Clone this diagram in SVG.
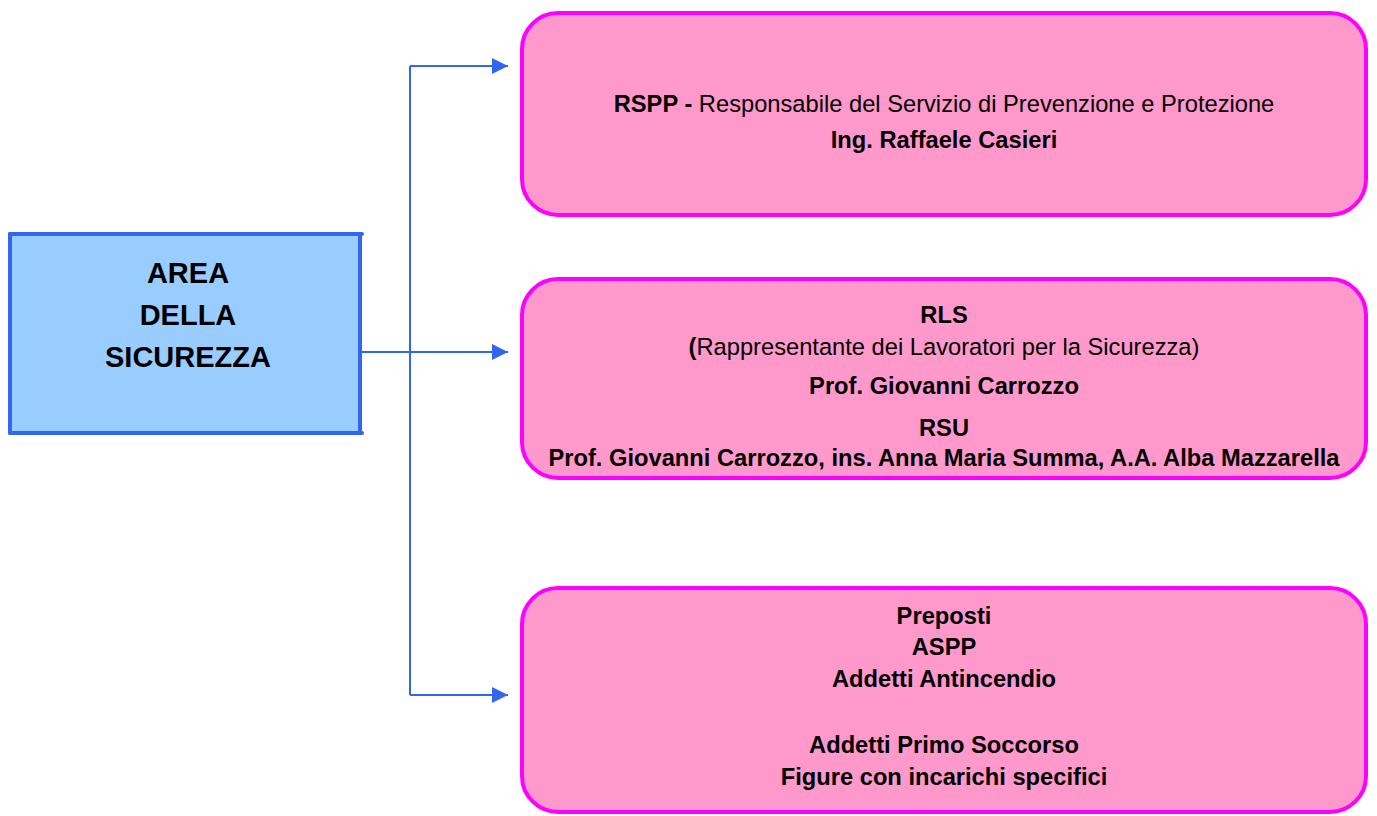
<svg xmlns="http://www.w3.org/2000/svg" width="1377" height="816" viewBox="0 0 1377 816">
<defs>
<style>
.t{font-family:"Liberation Sans",Arial,sans-serif;font-size:23.7px;fill:#000;text-anchor:middle}
.b{font-weight:bold}
.box{fill:#FF99CC;stroke:#FF00FF;stroke-width:4}
.con{fill:none;stroke:#3366EE;stroke-width:2}
</style>
<marker id="ah" viewBox="0 0 10 10" refX="10" refY="5" markerWidth="16" markerHeight="16" markerUnits="userSpaceOnUse" orient="auto">
<path d="M0,0 L10,5 L0,10 Z" fill="#3366EE"/>
</marker>
</defs>
<rect width="1377" height="816" fill="#fff"/>
<g id="connectors">
<path class="con" d="M360,352 H508" marker-end="url(#ah)"/>
<path class="con" d="M410,66 V695"/>
<path class="con" d="M410,66 H508" marker-end="url(#ah)"/>
<path class="con" d="M410,695 H508" marker-end="url(#ah)"/>
</g>
<g id="area">
<rect x="10" y="234" width="350" height="199" fill="#99CCFF"/>
<g stroke="#3366EE" stroke-width="4" stroke-linecap="round">
<line x1="10" y1="234" x2="362" y2="234"/>
<line x1="10" y1="433" x2="362" y2="433"/>
<line x1="10" y1="234" x2="10" y2="433"/>
<line x1="360" y1="234" x2="360" y2="433"/>
</g>
<text class="t b" x="188" y="283" style="font-size:29px">AREA</text>
<text class="t b" x="188" y="325" style="font-size:29px">DELLA</text>
<text class="t b" x="188" y="367" style="font-size:29px">SICUREZZA</text>
</g>
<g id="rspp">
<rect class="box" x="522" y="13" width="844" height="202" rx="36"/>
<text class="t" x="944" y="112"><tspan class="b">RSPP - </tspan>Responsabile del Servizio di Prevenzione e Protezione</text>
<text class="t b" x="944" y="148">Ing. Raffaele Casieri</text>
</g>
<g id="rls">
<rect class="box" x="522" y="279" width="844" height="199" rx="36"/>
<text class="t b" x="944" y="323">RLS</text>
<text class="t" x="944" y="355"><tspan class="b">(</tspan>Rappresentante dei Lavoratori per la Sicurezza)</text>
<text class="t b" x="944" y="394">Prof. Giovanni Carrozzo</text>
<text class="t b" x="944" y="436">RSU</text>
<text class="t b" x="944" y="466">Prof. Giovanni Carrozzo, ins. Anna Maria Summa, A.A. Alba Mazzarella</text>
</g>
<g id="figure">
<rect class="box" x="522" y="588" width="844" height="224" rx="36"/>
<text class="t b" x="944" y="624">Preposti</text>
<text class="t b" x="944" y="655">ASPP</text>
<text class="t b" x="944" y="687">Addetti Antincendio</text>
<text class="t b" x="944" y="753">Addetti Primo Soccorso</text>
<text class="t b" x="944" y="785">Figure con incarichi specifici</text>
</g>
</svg>
